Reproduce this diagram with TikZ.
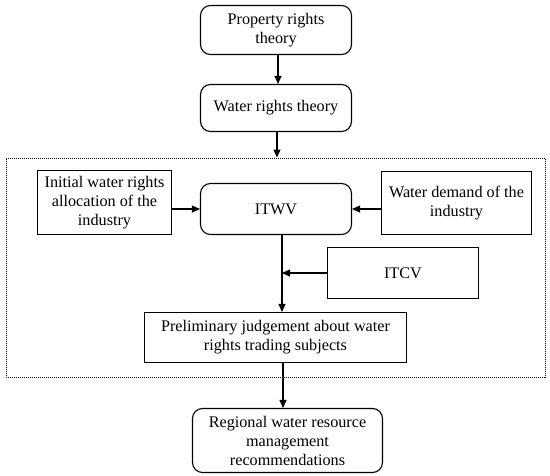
\documentclass[tikz,border=0pt]{standalone}
\usepackage{fontspec}
\setmainfont{Liberation Serif}
\usetikzlibrary{arrows.meta}
\tikzset{
  box/.style={draw, line width=1.1pt, align=center, inner sep=2pt,
    font=\fontsize{16.2}{19}\selectfont},
  roundbox/.style={box, rounded corners=10pt},
  frame/.style={draw, dash pattern=on 1pt off 1pt, line width=0.9pt},
  flow/.style={-{Triangle[length=8pt,width=7pt]}, line width=1.1pt}
}
\begin{document}
\begin{tikzpicture}[x=1pt, y=-1pt]
  \useasboundingbox (0,0) rectangle (550,476);
  % outer dotted frame
  \node[frame, minimum width=539pt, minimum height=219pt] (group) at (275.5,267.5) {};
  % boxes
  \node[roundbox, minimum width=151pt, minimum height=49pt] (prop) at (276,30) {Property rights\\theory};
  \node[roundbox, minimum width=151pt, minimum height=47pt] (wrt) at (276,108) {Water rights theory};
  \node[box, minimum width=134pt, minimum height=64pt] (init) at (104.5,202.5) {Initial water rights\\allocation of the\\industry};
  \node[roundbox, minimum width=151pt, minimum height=51pt] (itwv) at (276,209) {ITWV};
  \node[box, minimum width=150pt, minimum height=63pt] (demand) at (456.5,203) {Water demand of the\\industry};
  \node[box, minimum width=151pt, minimum height=51pt] (itcv) at (403,273) {ITCV};
  \node[box, minimum width=262pt, minimum height=50pt] (prelim) at (275.5,337.5) {Preliminary judgement about water\\rights trading subjects};
  \node[roundbox, minimum width=190pt, minimum height=64pt] (regional) at (287.5,440.5) {Regional water resource\\management\\recommendations};
  % connectors
  \draw[flow] ([xshift=2pt]prop.south) -- ([xshift=2pt]wrt.north);
  \draw[flow] ([xshift=1pt]wrt.south) -- ([xshift=1pt]wrt.south |- group.north);
  \draw[flow] (init.east |- itwv.west) -- (itwv.west);
  \draw[flow] (demand.west |- itwv.east) -- (itwv.east);
  \draw[flow] ([xshift=6pt]itwv.south) coordinate (spine) -- (spine |- prelim.north);
  \draw[flow] (itcv.west) -- (itcv.west -| spine);
  \draw[flow] ([xshift=7.5pt]prelim.south) -- ([xshift=7.5pt]prelim.south |- regional.north);
\end{tikzpicture}
\end{document}
